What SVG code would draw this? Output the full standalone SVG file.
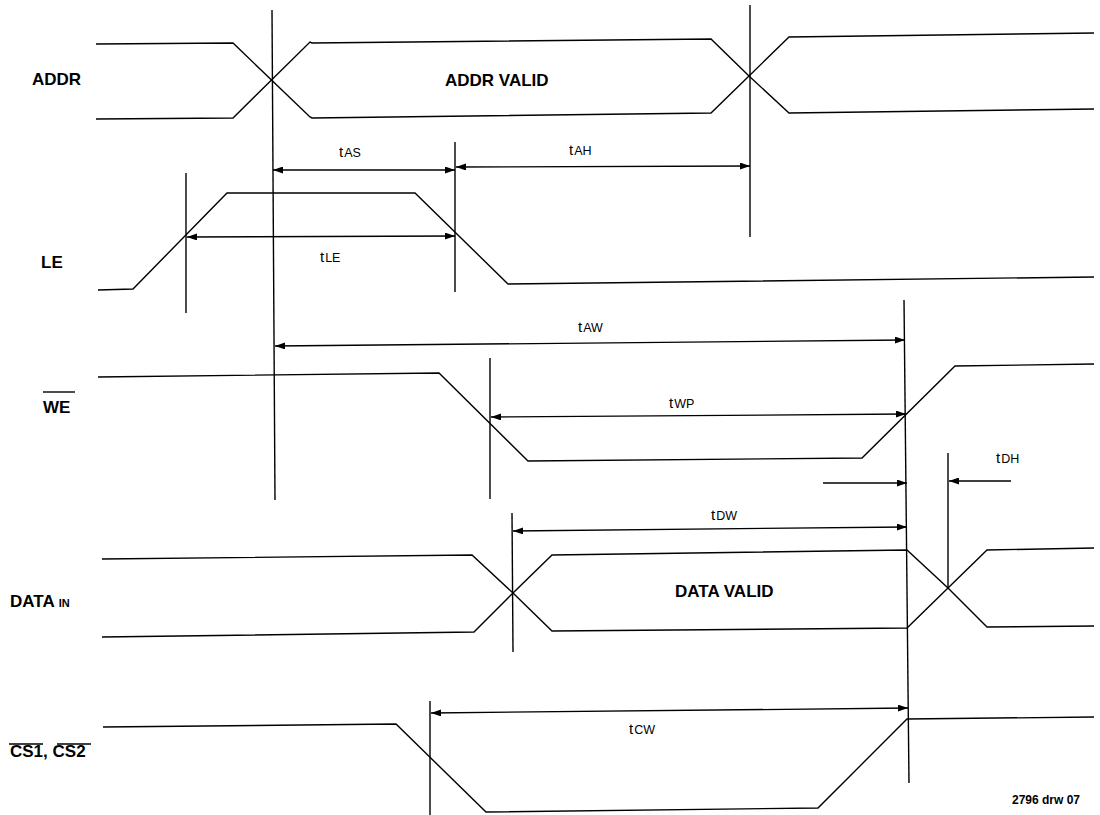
<svg xmlns="http://www.w3.org/2000/svg" width="1100" height="815" viewBox="0 0 1100 815">
<style>
.w{fill:none;stroke:#000;stroke-width:1.4;stroke-linejoin:miter}
.v{fill:none;stroke:#000;stroke-width:1.4}
.d{fill:none;stroke:#000;stroke-width:1.3}
.lbl{font-family:"Liberation Sans",Arial,sans-serif;font-size:17px;font-weight:bold;fill:#000}
.t{font-family:"Liberation Sans",Arial,sans-serif;font-size:15px;fill:#000}
.s{font-size:12.5px}
.sm{font-family:"Liberation Sans",Arial,sans-serif;font-size:12px;font-weight:bold;fill:#000}
</style>
<defs>
<marker id="ah" viewBox="0 0 10 7" refX="10" refY="3.5" markerWidth="10" markerHeight="7" markerUnits="userSpaceOnUse" orient="auto-start-reverse">
<path d="M0,0 L10,3.5 L0,7 z" fill="#000"/>
</marker>
</defs>
<rect width="1100" height="815" fill="#fff"/>

<g id="addr">
<text class="lbl" x="32" y="85">ADDR</text>
<polyline class="w" points="96,44 233,43 310,117 312,118 711,113 749,76 789,37 1094,33"/>
<polyline class="w" points="96,119 233,118 310,42 312,43 711,39 749,76 789,113 1094,109"/>
<text class="lbl" x="445" y="86">ADDR VALID</text>
</g>

<g id="le">
<text class="lbl" x="41" y="268">LE</text>
<polyline class="w" points="98,290 133,289 227,193 415,193 508,284 1094,277"/>
</g>

<g id="we">
<text class="lbl" x="43" y="413">WE</text>
<line class="v" x1="43" y1="392" x2="75" y2="392"/>
<polyline class="w" points="98,377 439,373 528,461 862,458 955,366 1094,364"/>
</g>

<g id="datain">
<text class="lbl" x="10" y="607">DATA <tspan style="font-size:11px">IN</tspan></text>
<polyline class="w" points="102,559 472,555 513,593 552,631 907,628 948,588 987,550 1094,548"/>
<polyline class="w" points="102,637 474,632 513,593 552,555 907,550 948,588 987,627 1094,626"/>
<text class="lbl" x="675" y="597">DATA VALID</text>
</g>

<g id="cs">
<text class="lbl" x="10" y="757">CS1, CS2</text>
<line class="v" x1="9" y1="744" x2="43" y2="744"/>
<line class="v" x1="57" y1="744" x2="91" y2="744"/>
<polyline class="w" points="103,727 396,724 486,812 818,808 907,719 1094,717"/>
</g>

<g id="connectors">
<line class="v" x1="272" y1="10" x2="275" y2="500"/>
<line class="v" x1="750" y1="5" x2="750" y2="237"/>
<line class="v" x1="455" y1="142" x2="455" y2="292"/>
<line class="v" x1="186" y1="173" x2="186" y2="313"/>
<line class="v" x1="490" y1="358" x2="490" y2="499"/>
<line class="v" x1="904" y1="300" x2="909" y2="783"/>
<line class="v" x1="948" y1="453" x2="948" y2="588"/>
<line class="v" x1="512" y1="513" x2="513" y2="652"/>
<line class="v" x1="430" y1="701" x2="430" y2="815"/>

<line class="d" x1="273" y1="170" x2="455" y2="170" marker-start="url(#ah)" marker-end="url(#ah)"/>
<line class="d" x1="456" y1="167" x2="750" y2="166" marker-start="url(#ah)" marker-end="url(#ah)"/>
<line class="d" x1="187" y1="237" x2="455" y2="236" marker-start="url(#ah)" marker-end="url(#ah)"/>
<line class="d" x1="275" y1="346" x2="905" y2="340" marker-start="url(#ah)" marker-end="url(#ah)"/>
<line class="d" x1="491" y1="417" x2="906" y2="414" marker-start="url(#ah)" marker-end="url(#ah)"/>
<line class="d" x1="823" y1="483" x2="907" y2="483" marker-end="url(#ah)"/>
<line class="d" x1="1011" y1="481" x2="949" y2="481" marker-end="url(#ah)"/>
<line class="d" x1="513" y1="531" x2="907" y2="527" marker-start="url(#ah)" marker-end="url(#ah)"/>
<line class="d" x1="431" y1="713" x2="908" y2="708" marker-start="url(#ah)" marker-end="url(#ah)"/>
</g>

<g id="timing-labels">
<text class="t" x="339" y="157">t<tspan class="s" dx="1">AS</tspan></text>
<text class="t" x="569" y="155">t<tspan class="s" dx="1">AH</tspan></text>
<text class="t" x="320" y="262">t<tspan class="s" dx="1">LE</tspan></text>
<text class="t" x="578" y="332">t<tspan class="s" dx="1">AW</tspan></text>
<text class="t" x="669" y="408">t<tspan class="s" dx="1">WP</tspan></text>
<text class="t" x="996" y="463">t<tspan class="s" dx="1">DH</tspan></text>
<text class="t" x="711" y="520">t<tspan class="s" dx="1">DW</tspan></text>
<text class="t" x="629" y="734">t<tspan class="s" dx="1">CW</tspan></text>
<text class="sm" x="1012" y="804">2796 drw 07</text>
</g>
</svg>
